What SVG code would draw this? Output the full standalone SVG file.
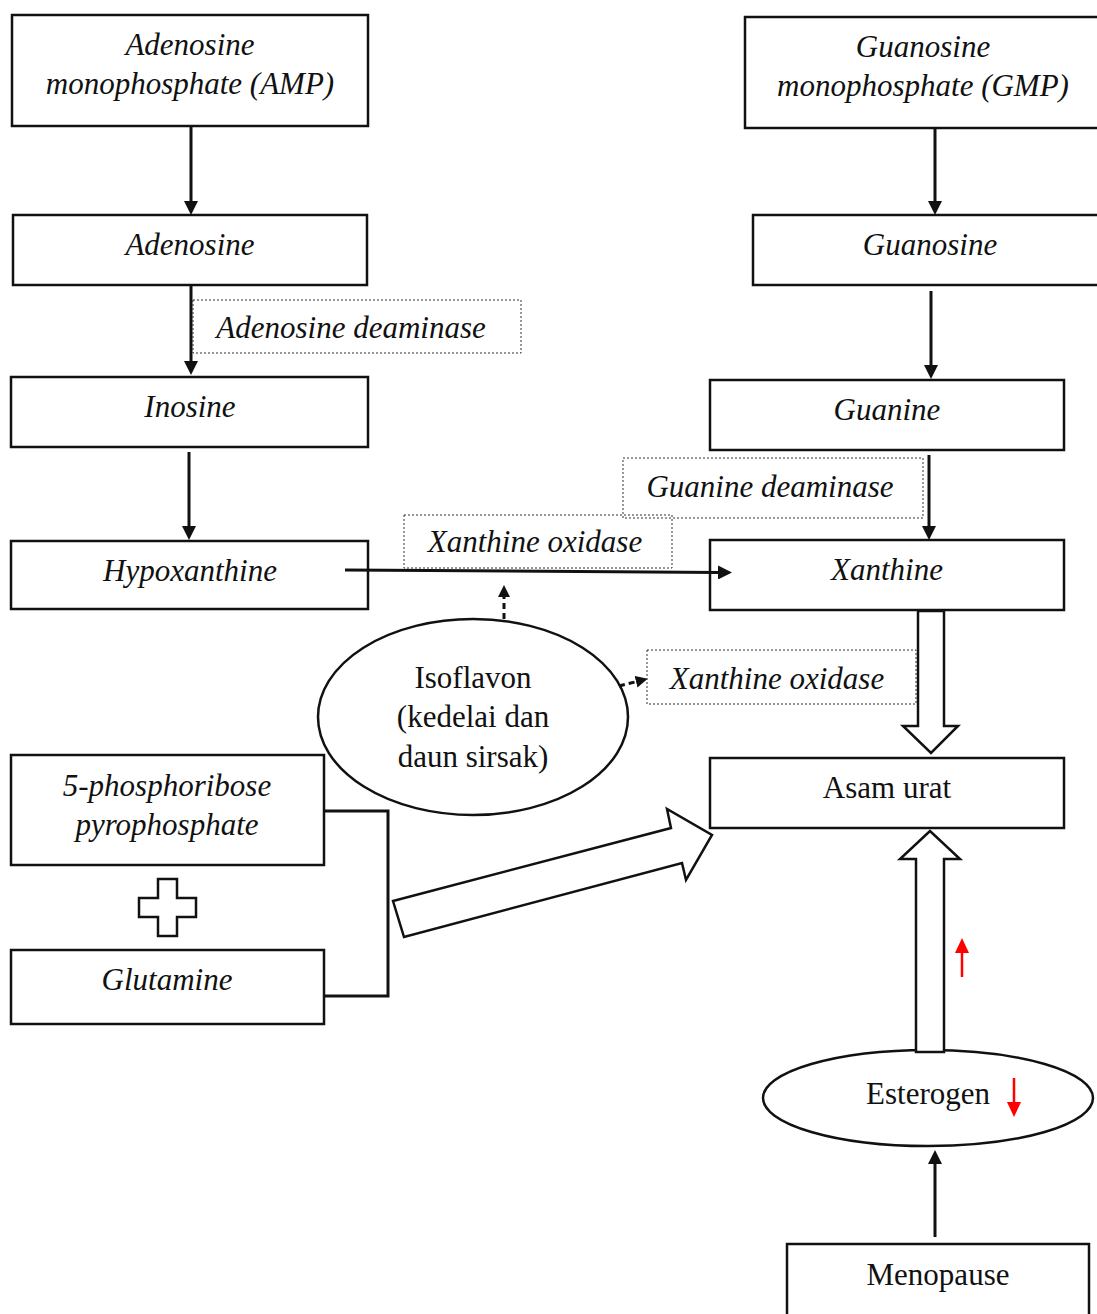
<svg xmlns="http://www.w3.org/2000/svg" width="1097" height="1314" viewBox="0 0 1097 1314">
<defs>
<style>
.box{fill:#fff;stroke:#111;stroke-width:2.5}
.dot{fill:none;stroke:#333;stroke-width:1;stroke-dasharray:2 2}
.it{font-family:"Liberation Serif","Times New Roman",serif;font-style:italic;font-size:31px;fill:#111;text-anchor:middle}
.rm{font-family:"Liberation Serif","Times New Roman",serif;font-size:31px;fill:#111;text-anchor:middle}
.ln{stroke:#111;stroke-width:3;fill:none}
.dl{stroke:#111;stroke-width:3;fill:none;stroke-dasharray:6 4}
.red{stroke:#f00;stroke-width:2.5;fill:none}
.blk{fill:#fff;stroke:#111;stroke-width:2.5;stroke-linejoin:miter}
</style>
<marker id="ah" markerUnits="userSpaceOnUse" markerWidth="14" markerHeight="14" viewBox="0 0 14 14" refX="1" refY="7" orient="auto"><path d="M0,0 L14,7 L0,14 z" fill="#111"/></marker>
<marker id="ahs" markerUnits="userSpaceOnUse" markerWidth="12" markerHeight="12" viewBox="0 0 12 12" refX="1" refY="6" orient="auto"><path d="M0,0 L12,6 L0,12 z" fill="#111"/></marker>
<marker id="ahr" markerUnits="userSpaceOnUse" markerWidth="15" markerHeight="14" viewBox="0 0 15 14" refX="1" refY="7" orient="auto"><path d="M0,0 L15,7 L0,14 z" fill="#f00"/></marker>
</defs>
<rect width="1097" height="1314" fill="#fff"/>

<g id="amp"><rect class="box" x="12" y="15" width="356" height="111"/>
<text class="it" x="190" y="55">Adenosine</text><text class="it" x="190" y="94">monophosphate (AMP)</text></g>
<g id="adenosine"><rect class="box" x="13" y="215" width="354" height="70"/><text class="it" x="190" y="255">Adenosine</text></g>
<g id="adenosine-deaminase"><rect class="dot" x="193" y="300" width="328" height="53"/><text class="it" x="351" y="338">Adenosine deaminase</text></g>
<g id="inosine"><rect class="box" x="11" y="377" width="357" height="70"/><text class="it" x="190" y="417">Inosine</text></g>
<g id="hypoxanthine"><rect class="box" x="11" y="541" width="357" height="68"/><text class="it" x="190" y="581">Hypoxanthine</text></g>

<g id="gmp"><rect class="box" x="745" y="17" width="360" height="111"/>
<text class="it" x="923" y="57">Guanosine</text><text class="it" x="923" y="96">monophosphate (GMP)</text></g>
<g id="guanosine"><rect class="box" x="753" y="215" width="352" height="70"/><text class="it" x="930" y="255">Guanosine</text></g>
<g id="guanine"><rect class="box" x="710" y="380" width="354" height="70"/><text class="it" x="887" y="420">Guanine</text></g>
<g id="guanine-deaminase"><rect class="dot" x="623" y="458" width="300" height="60"/><text class="it" x="770" y="497">Guanine deaminase</text></g>
<g id="xanthine-oxidase-1"><rect class="dot" x="404" y="515" width="268" height="53"/><text class="it" x="535" y="552">Xanthine oxidase</text></g>
<g id="xanthine"><rect class="box" x="710" y="540" width="354" height="70"/><text class="it" x="887" y="580">Xanthine</text></g>

<g id="isoflavon"><ellipse class="box" cx="473" cy="717" rx="155" ry="98"/>
<text class="rm" x="473" y="688">Isoflavon</text><text class="rm" x="473" y="727">(kedelai dan</text><text class="rm" x="473" y="767">daun sirsak)</text></g>
<g id="xanthine-oxidase-2"><rect class="dot" x="647" y="650" width="269" height="54"/><text class="it" x="777" y="689">Xanthine oxidase</text></g>
<g id="asam-urat"><rect class="box" x="710" y="758" width="354" height="70"/><text class="rm" x="887" y="798">Asam urat</text></g>

<g id="prpp"><rect class="box" x="11" y="755" width="313" height="110"/>
<text class="it" x="167" y="796">5-phosphoribose</text><text class="it" x="167" y="835">pyrophosphate</text></g>
<g id="plus"><polygon class="blk" points="158,879 177,879 177,898 196,898 196,917 177,917 177,936 158,936 158,917 139,917 139,898 158,898"/></g>
<g id="glutamine"><rect class="box" x="11" y="950" width="313" height="74"/><text class="it" x="167" y="990">Glutamine</text></g>

<g id="esterogen"><ellipse class="box" cx="928" cy="1098" rx="165" ry="48"/>
<text class="rm" x="928" y="1104">Esterogen</text></g>
<g id="menopause"><rect class="box" x="787" y="1244" width="302" height="80"/><text class="rm" x="938" y="1285">Menopause</text></g>

<g id="connectors">
<line class="ln" x1="191" y1="127" x2="191" y2="202" marker-end="url(#ah)"/>
<line class="ln" x1="191" y1="286" x2="191" y2="362" marker-end="url(#ah)"/>
<line class="ln" x1="189" y1="452" x2="189" y2="527" marker-end="url(#ah)"/>
<line class="ln" x1="935" y1="129" x2="935" y2="202" marker-end="url(#ah)"/>
<line class="ln" x1="931" y1="291" x2="931" y2="366" marker-end="url(#ah)"/>
<line class="ln" x1="929" y1="455" x2="929" y2="527" marker-end="url(#ah)"/>
<line class="ln" x1="345" y1="570" x2="719" y2="572.5" marker-end="url(#ah)"/>
<line class="ln" x1="935" y1="1237" x2="935" y2="1163" marker-end="url(#ah)"/>
<line class="dl" x1="504" y1="619" x2="504" y2="596" marker-end="url(#ahs)"/>
<line class="dl" x1="619" y1="686" x2="637" y2="681.5" marker-end="url(#ahs)"/>
<polyline class="ln" points="324,811 388,811 388,996 324,996"/>
<polygon class="blk" points="918,611 944,611 944,726 958,726 931,753 903,726 918,726"/>
<polygon class="blk" points="393,901 671,828 667,809 712,835 686,880 682,863 404,937"/>
<polygon class="blk" points="916,1052 944,1052 944,859 960,859 930,831 900,859 916,859"/>
<line class="red" x1="962" y1="977" x2="962" y2="952" marker-end="url(#ahr)"/>
<line class="red" x1="1014" y1="1078" x2="1014" y2="1103" marker-end="url(#ahr)"/>
</g>
</svg>
